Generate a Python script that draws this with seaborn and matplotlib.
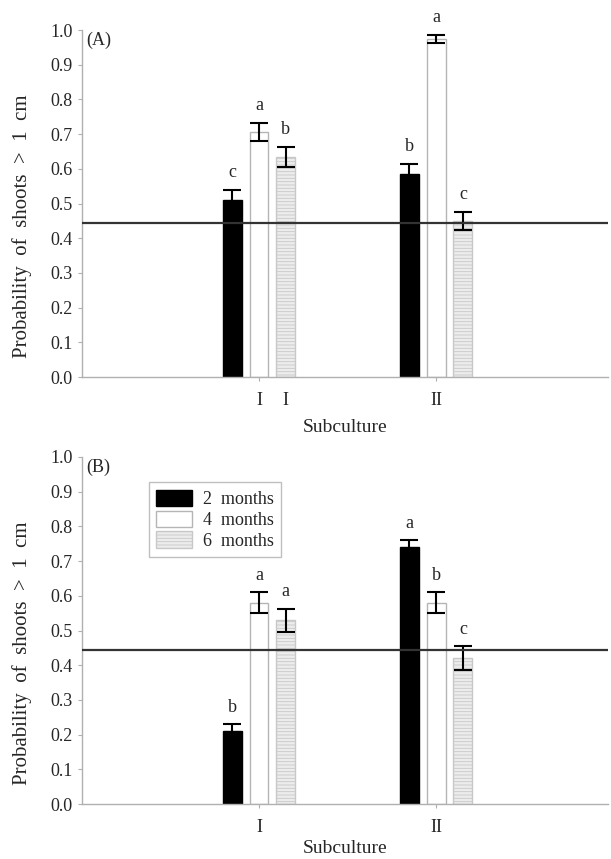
import numpy as np
import pandas as pd
import seaborn as sns
import matplotlib.pyplot as plt
from matplotlib.transforms import offset_copy

# degerler
subcultures = ["I", "II"]
periods = ["2  months", "4  months", "6  months"]

prob_a = [[0.51, 0.706, 0.634],
          [0.585, 0.975, 0.45]]
err_a = [[0.03, 0.026, 0.03],
         [0.03, 0.011, 0.027]]
letters_a = [["c", "a", "b"],
             ["b", "a", "c"]]

prob_b = [[0.21, 0.58, 0.53],
          [0.74, 0.58, 0.42]]
err_b = [[0.02, 0.03, 0.033],
         [0.02, 0.03, 0.034]]
letters_b = [["b", "a", "a"],
             ["a", "b", "c"]]

ref_line = 0.444

sns.set_style("white")
plt.rcParams['font.family'] = ['Liberation Serif', 'DejaVu Serif']
plt.rcParams['hatch.linewidth'] = 0.6

bar_colors = ["black", "white", "#ececec"]
edge_colors = ["black", "#b5b5b5", "#c8c8c8"]


def make_df(values):
    rows = []
    for i, sub in enumerate(subcultures):
        for j, per in enumerate(periods):
            rows.append({"Subculture": sub, "Period": per, "Prob": values[i][j]})
    return pd.DataFrame(rows)


def draw_panel(ax, values, errors, letters, tag, xpad, legend=False):
    df = make_df(values)
    sns.barplot(data=df, x="Subculture", y="Prob", hue="Period",
                palette=bar_colors, width=0.453, gap=0.29,
                errorbar=None, legend=False, ax=ax)

    bar_conts = list(ax.containers)
    for j, cont in enumerate(bar_conts):
        for i, bar in enumerate(cont.patches):
            bar.set_edgecolor(edge_colors[j])
            bar.set_linewidth(1.0)
            if j == 2:
                bar.set_hatch("-----")
            xc = bar.get_x() + bar.get_width() / 2
            h = bar.get_height()
            ax.errorbar(xc, h, yerr=errors[i][j], color="black",
                        capsize=6.5, capthick=1.5, elinewidth=1.5, zorder=5)
            ax.text(xc, h + errors[i][j] + 0.025, letters[i][j],
                    ha="center", va="bottom", fontsize=13)

    ax.axhline(ref_line, color="#333333", lw=1.6, zorder=6)

    ax.set_xlim(-1.0, 1.97)
    ax.set_ylim(0, 1.0)
    ax.set_yticks(np.arange(0, 1.01, 0.1))
    ax.set_yticklabels([f"{v:.1f}" for v in np.arange(0, 1.01, 0.1)], fontsize=13)
    ax.tick_params(axis="x", labelsize=13, length=3, color="#b0b0b0", pad=8)
    ax.tick_params(axis="y", length=3, color="#b0b0b0", left=True)
    ax.tick_params(axis="x", bottom=True)
    ax.set_xlabel("Subculture", fontsize=14, labelpad=xpad)
    ax.set_ylabel("Probability  of  shoots  >  1  cm", fontsize=15)
    ax.yaxis.set_label_coords(-0.095, 0.435)
    for side in ["top", "right"]:
        ax.spines[side].set_visible(False)
    for side in ["left", "bottom"]:
        ax.spines[side].set_color("#b0b0b0")
        ax.spines[side].set_linewidth(1.0)
    ax.text(0.008, 0.995, tag, transform=ax.transAxes, ha="left", va="top", fontsize=13)

    if legend:
        handles = [c.patches[0] for c in bar_conts]
        leg = ax.legend(handles, periods, loc="upper left",
                        bbox_to_anchor=(0.11, 0.953), fontsize=13,
                        frameon=True, fancybox=False, edgecolor="#b0b0b0",
                        handlelength=2.0, handleheight=1.0, labelspacing=0.15,
                        borderpad=0.4, handletextpad=0.6)
        leg.get_frame().set_linewidth(1.0)


fig = plt.figure(figsize=(6.11, 8.59), dpi=100)
ax_a = fig.add_axes([0.134, 0.561, 0.861, 0.404])
ax_b = fig.add_axes([0.134, 0.064, 0.861, 0.404])

draw_panel(ax_a, prob_a, err_a, letters_a, "(A)", xpad=7)
draw_panel(ax_b, prob_b, err_b, letters_b, "(B)", xpad=3, legend=True)

# panel A'da ilk grubun altindaki ikinci "I"
tr = offset_copy(ax_a.get_xaxis_transform(), fig=fig, x=0, y=-11, units="points")
ax_a.text(0.151, 0, "I", transform=tr, ha="center", va="top", fontsize=13)

fig.savefig("out.png", dpi=100)
